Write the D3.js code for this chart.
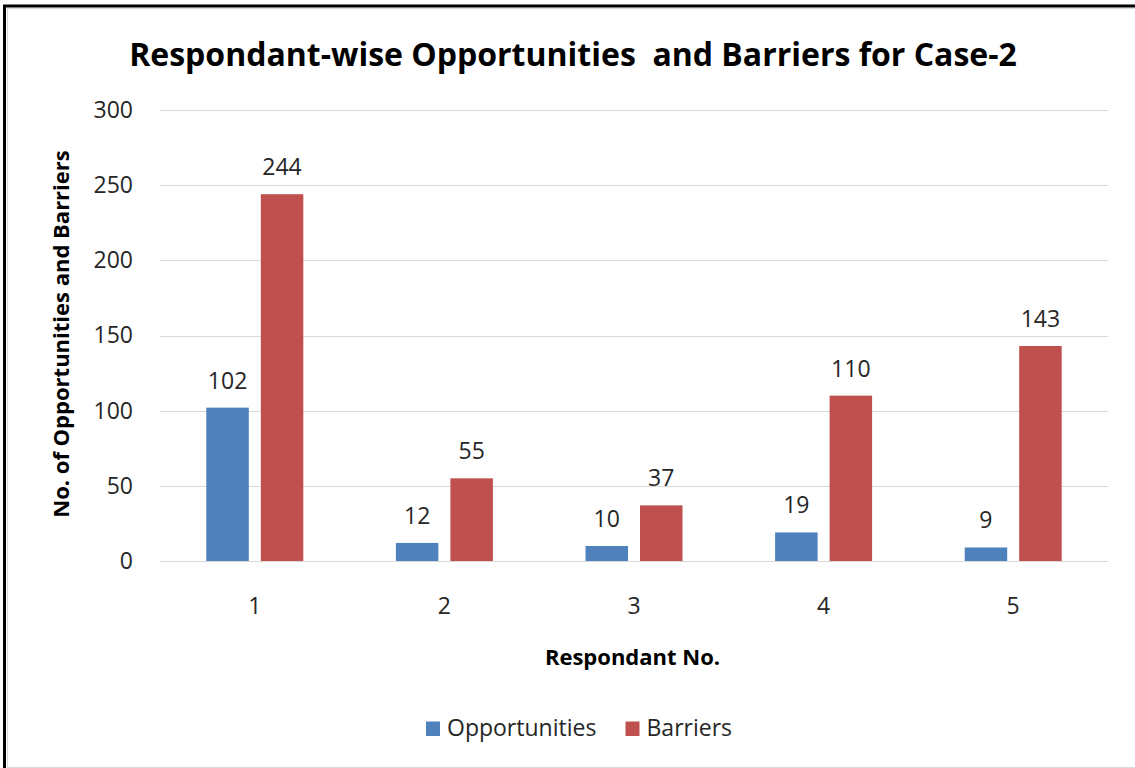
<!DOCTYPE html>
<html>
<head>
<meta charset="utf-8">
<script src="https://cdn.jsdelivr.net/npm/d3@7"></script>
<style>
  html, body { margin: 0; padding: 0; background: #fff; }
  svg { display: block; }
  text { font-family: "Open Sans", "Noto Sans", "DejaVu Sans", sans-serif; }
</style>
</head>
<body>
<svg id="chart" width="1135" height="768"></svg>
<script>
// Respondent numbers and counts per series
const respondents = ["1", "2", "3", "4", "5"];
const opportunities = [102, 12, 10, 19, 9];
const barriers = [244, 55, 37, 110, 143];
const seriesNames = ["Opportunities", "Barriers"];
const seriesColors = ["#4F81BD", "#C0504D"];
const yTicks = [0, 50, 100, 150, 200, 250, 300];

const svg = d3.select("#chart");
const W = 1135, H = 768;
const labelSize = 23;

// outer frame
svg.append("rect").attr("x", 0).attr("y", 0).attr("width", W).attr("height", H).attr("fill", "#fff");
svg.append("rect").attr("x", 4.5).attr("y", 6).attr("width", W + 10).attr("height", H + 10)
  .attr("fill", "none").attr("stroke", "#000").attr("stroke-width", 3);
svg.append("rect").attr("x", 7.5).attr("y", 8.5).attr("width", W + 10).attr("height", H - 9)
  .attr("fill", "none").attr("stroke", "#d9d9d9").attr("stroke-width", 1);

const plot = { left: 160, right: 1108, top: 110, bottom: 561 };

const x = d3.scaleBand().domain(respondents).range([plot.left, plot.right]);
const y = d3.scaleLinear().domain([0, 300]).range([plot.bottom, plot.top]);

const barW = 42.5, barGap = 12;
const sub = d3.scaleOrdinal().domain(seriesNames)
  .range([-(barW + barGap / 2), barGap / 2]);

// gridlines
const grid = svg.append("g");
grid.selectAll("line").data(yTicks).join("line")
  .attr("x1", plot.left).attr("x2", plot.right)
  .attr("y1", d => Math.round(y(d)) + 0.5).attr("y2", d => Math.round(y(d)) + 0.5)
  .attr("stroke", "#d9d9d9").attr("stroke-width", 1);

// y axis labels
const yAxis = svg.append("g").attr("transform", `translate(${plot.left},0)`)
  .call(d3.axisLeft(y).tickValues(yTicks).tickSize(0).tickPadding(27));
yAxis.select(".domain").remove();
yAxis.selectAll("text").attr("font-size", labelSize).attr("fill", "#262626")
  .attr("font-family", "'Open Sans', sans-serif");

// x axis labels
const xAxis = svg.append("g").attr("transform", `translate(0,${plot.bottom})`)
  .call(d3.axisBottom(x).tickSize(0));
xAxis.select(".domain").remove();
xAxis.selectAll("text").attr("y", 53).attr("dy", 0)
  .attr("font-size", labelSize).attr("fill", "#262626")
  .attr("font-family", "'Open Sans', sans-serif");

// bars
const rows = respondents.map((r, i) => ({ r, values: [opportunities[i], barriers[i]] }));
const groups = svg.append("g").selectAll("g").data(rows).join("g")
  .attr("transform", d => `translate(${x(d.r) + x.bandwidth() / 2},0)`);

const cells = groups.selectAll("g").data(d => d.values.map((v, k) => ({ v, k }))).join("g");
cells.append("rect")
  .attr("x", d => sub(seriesNames[d.k]))
  .attr("width", barW)
  .attr("y", d => y(d.v))
  .attr("height", d => y(0) - y(d.v))
  .attr("fill", d => seriesColors[d.k]);
cells.append("text")
  .attr("x", d => sub(seriesNames[d.k]) + barW / 2)
  .attr("y", d => y(d.v) - 19)
  .attr("text-anchor", "middle")
  .attr("font-size", labelSize).attr("fill", "#262626")
  .text(d => d.v);

// title
svg.append("text").attr("x", 573).attr("y", 66).attr("text-anchor", "middle")
  .attr("font-size", 32).attr("font-weight", "bold").attr("fill", "#000")
  .text("Respondant-wise Opportunities\u00a0 and Barriers for Case-2");

// axis titles
svg.append("text").attr("transform", "translate(68.5,334) rotate(-90)")
  .attr("text-anchor", "middle").attr("font-size", 22).attr("font-weight", "bold").attr("fill", "#000")
  .text("No. of Opportunities and Barriers");
svg.append("text").attr("x", 632.5).attr("y", 665).attr("text-anchor", "middle")
  .attr("font-size", 22).attr("font-weight", "bold").attr("fill", "#000")
  .text("Respondant No.");

// legend
const legend = svg.append("g");
const legendItems = [{ name: seriesNames[0], color: seriesColors[0], x: 426 },
                     { name: seriesNames[1], color: seriesColors[1], x: 625.5 }];
legendItems.forEach(it => {
  legend.append("rect").attr("x", it.x).attr("y", 721.5).attr("width", 14).attr("height", 14.5).attr("fill", it.color);
  legend.append("text").attr("x", it.x + 21).attr("y", 736).attr("font-size", labelSize).attr("fill", "#262626").text(it.name);
});
</script>
</body>
</html>
